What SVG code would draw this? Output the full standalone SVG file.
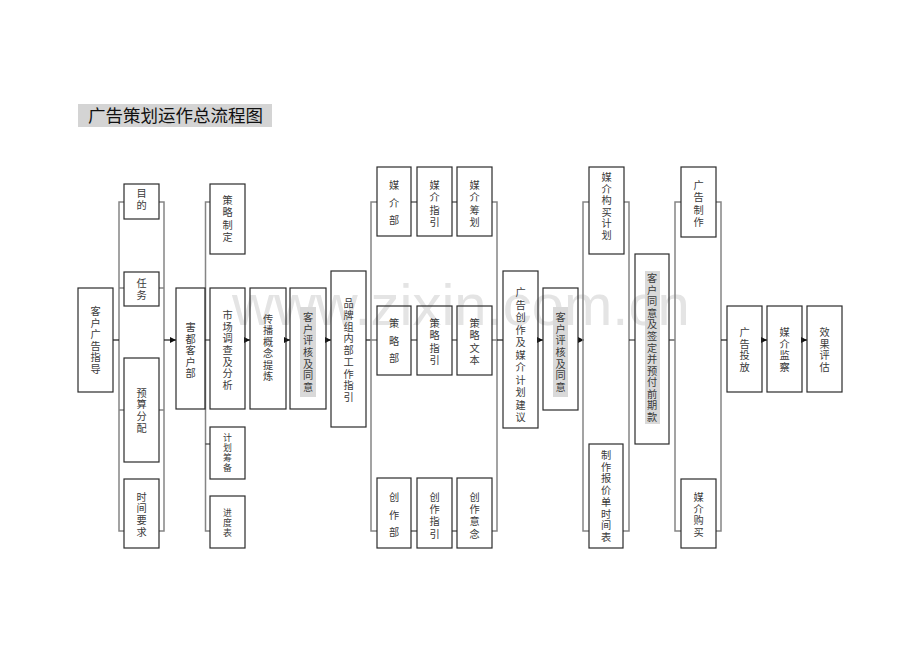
<svg xmlns="http://www.w3.org/2000/svg" width="920" height="651" viewBox="0 0 920 651">
<style>
.box{fill:none;stroke:#2b2b2b;stroke-width:1.2}
.rail{fill:none;stroke:#858585;stroke-width:1.5}
.link{fill:none;stroke:#1a1a1a;stroke-width:1.2}
.arr{fill:none;stroke:#1a1a1a;stroke-width:1.2;marker-end:url(#ah)}
.hl{fill:#d9d9d9;stroke:none}
.v{font-family:"Liberation Sans","Noto Sans CJK SC","Noto Sans CJK JP",sans-serif;font-size:10.2px;fill:#3a3a3a;text-anchor:middle;dominant-baseline:central}
.sm{font-size:8.9px}
.title{font-family:"Noto Sans CJK SC",sans-serif;font-size:17.5px;fill:#111}
.wm{font-family:"Liberation Sans",Arial,sans-serif;font-size:58px;fill:#e4e4e4}
</style>
<defs>
<marker id="ah" markerWidth="7" markerHeight="7" refX="6" refY="3.5" orient="auto" markerUnits="userSpaceOnUse">
<path d="M0,0.5 L6,3.5 L0,6.5 Z" fill="#111"/>
</marker>
</defs>
<rect width="920" height="651" fill="#fff"/>
<text class="wm" x="232" y="325">www.zixin.com.cn</text>
<g id="title">
<rect x="78" y="104" width="194" height="23" fill="#d4d4d4"/>
<text class="title" x="88" y="122">广告策划运作总流程图</text>
</g>
<g id="connectors">
<path class="rail" d="M124,202 H119 V531 H124 M119,288 H124 M119,410 H124"/>
<path class="rail" d="M159,202 H164 V531 H159 M159,288 H164 M159,410 H164"/>
<path class="rail" d="M210,202 H205.5 V531 H210"/>
<path class="link" d="M205.5,444 H210 M205,340 H210"/>
<path class="link" d="M113,340 H119"/>
<path class="arr" d="M164,340 H176"/>
<path class="arr" d="M245,340 H250"/>
<path class="arr" d="M286,340 H290"/>
<path class="arr" d="M326,340 H331"/>
<path class="link" d="M366,340 H371"/>
<path class="rail" d="M377,202 H371 V531 H377 M371,340 H377"/>
<path class="rail" d="M492,202 H497 V531 H492 M492,340 H497"/>
<path class="link" d="M411,202 H417 M452,202 H457 M411,340 H417 M452,340 H457 M411,531 H417 M452,531 H457"/>
<path class="link" d="M497,340 H503"/>
<path class="arr" d="M538,340 H543"/>
<path class="arr" d="M578,340 H584"/>
<path class="rail" d="M589,202 H583 V531 H589"/>
<path class="rail" d="M624,202 H629 V531 H623"/>
<path class="link" d="M629,340 H635 M669,340 H675"/>
<path class="rail" d="M681,202 H675 V531 H681"/>
<path class="rail" d="M716,202 H721 V531 H716"/>
<path class="link" d="M721,340 H727"/>
<path class="arr" d="M762,340 H767"/>
<path class="arr" d="M802,340 H807"/>
</g>
<g id="n-khggzd"><rect class="box" x="78" y="288" width="35" height="104"/>
<text class="v"><tspan x="95.5" y="311.3">客</tspan><tspan x="95.5" y="322.8">户</tspan><tspan x="95.5" y="334.3">广</tspan><tspan x="95.5" y="345.8">告</tspan><tspan x="95.5" y="357.3">指</tspan><tspan x="95.5" y="368.8">导</tspan></text></g>
<g id="n-md"><rect class="box" x="124" y="184" width="35" height="35"/>
<text class="v"><tspan x="141.5" y="193">目</tspan><tspan x="141.5" y="205">的</tspan></text></g>
<g id="n-rw"><rect class="box" x="124" y="272" width="35" height="34"/>
<text class="v"><tspan x="141.5" y="282.5">任</tspan><tspan x="141.5" y="294.5">务</tspan></text></g>
<g id="n-ysfp"><rect class="box" x="124" y="358" width="35" height="104"/>
<text class="v"><tspan x="141.5" y="392.5">预</tspan><tspan x="141.5" y="404.2">算</tspan><tspan x="141.5" y="415.9">分</tspan><tspan x="141.5" y="427.6">配</tspan></text></g>
<g id="n-sjyq"><rect class="box" x="124" y="479" width="35" height="69"/>
<text class="v"><tspan x="141.5" y="496.5">时</tspan><tspan x="141.5" y="508.2">间</tspan><tspan x="141.5" y="519.9">要</tspan><tspan x="141.5" y="531.6">求</tspan></text></g>
<g id="n-khb"><rect class="box" x="176" y="288" width="29" height="121"/>
<text class="v"><tspan x="190.5" y="327">害</tspan><tspan x="190.5" y="338.5">都</tspan><tspan x="190.5" y="350">客</tspan><tspan x="190.5" y="361.5">户</tspan><tspan x="190.5" y="373">部</tspan></text></g>
<g id="n-clzd"><rect class="box" x="210" y="184" width="35" height="70"/>
<text class="v"><tspan x="227.5" y="200">策</tspan><tspan x="227.5" y="212.3">略</tspan><tspan x="227.5" y="224.6">制</tspan><tspan x="227.5" y="236.9">定</tspan></text></g>
<g id="n-scdc"><rect class="box" x="210" y="288" width="35" height="121"/>
<text class="v"><tspan x="227.5" y="314.9">市</tspan><tspan x="227.5" y="326.6">场</tspan><tspan x="227.5" y="338.3">调</tspan><tspan x="227.5" y="350">查</tspan><tspan x="227.5" y="361.7">及</tspan><tspan x="227.5" y="373.4">分</tspan><tspan x="227.5" y="385.1">析</tspan></text></g>
<g id="n-jhcb"><rect class="box" x="210" y="427" width="35" height="52"/>
<text class="v sm"><tspan x="227.5" y="438">计</tspan><tspan x="227.5" y="448">划</tspan><tspan x="227.5" y="458">筹</tspan><tspan x="227.5" y="468">备</tspan></text></g>
<g id="n-jdb"><rect class="box" x="210" y="496" width="35" height="52"/>
<text class="v sm"><tspan x="227.5" y="513">进</tspan><tspan x="227.5" y="523">度</tspan><tspan x="227.5" y="533">表</tspan></text></g>
<g id="n-cbgn"><rect class="box" x="250" y="288" width="36" height="121"/>
<text class="v"><tspan x="268" y="318.8">传</tspan><tspan x="268" y="330.3">播</tspan><tspan x="268" y="341.8">概</tspan><tspan x="268" y="353.3">念</tspan><tspan x="268" y="364.8">提</tspan><tspan x="268" y="376.3">炼</tspan></text></g>
<g id="n-khph1"><rect class="box" x="290" y="288" width="36" height="121"/>
<rect class="hl" x="300" y="307" width="16" height="90"/>
<text class="v"><tspan x="308" y="316.9">客</tspan><tspan x="308" y="328.6">户</tspan><tspan x="308" y="340.3">评</tspan><tspan x="308" y="352">核</tspan><tspan x="308" y="363.7">及</tspan><tspan x="308" y="375.4">同</tspan><tspan x="308" y="387.1">意</tspan></text></g>
<g id="n-ppzn"><rect class="box" x="331" y="271" width="35" height="156"/>
<text class="v"><tspan x="348.5" y="303">品</tspan><tspan x="348.5" y="314.8">牌</tspan><tspan x="348.5" y="326.5">组</tspan><tspan x="348.5" y="338.3">内</tspan><tspan x="348.5" y="350">部</tspan><tspan x="348.5" y="361.8">工</tspan><tspan x="348.5" y="373.5">作</tspan><tspan x="348.5" y="385.3">指</tspan><tspan x="348.5" y="397">引</tspan></text></g>
<g id="n-mjb"><rect class="box" x="377" y="167" width="34" height="69"/>
<text class="v"><tspan x="394" y="185">媒</tspan><tspan x="394" y="202.5">介</tspan><tspan x="394" y="220">部</tspan></text></g>
<g id="n-mjzy"><rect class="box" x="417" y="167" width="35" height="69"/>
<text class="v"><tspan x="434.5" y="185">媒</tspan><tspan x="434.5" y="197.3">介</tspan><tspan x="434.5" y="209.6">指</tspan><tspan x="434.5" y="221.9">引</tspan></text></g>
<g id="n-mjch"><rect class="box" x="457" y="167" width="35" height="69"/>
<text class="v"><tspan x="474.5" y="185">媒</tspan><tspan x="474.5" y="197.3">介</tspan><tspan x="474.5" y="209.6">筹</tspan><tspan x="474.5" y="221.9">划</tspan></text></g>
<g id="n-clb"><rect class="box" x="377" y="306" width="34" height="69"/>
<text class="v"><tspan x="394" y="323">策</tspan><tspan x="394" y="340.5">略</tspan><tspan x="394" y="358">部</tspan></text></g>
<g id="n-clzy"><rect class="box" x="417" y="306" width="35" height="69"/>
<text class="v"><tspan x="434.5" y="323">策</tspan><tspan x="434.5" y="335.3">略</tspan><tspan x="434.5" y="347.6">指</tspan><tspan x="434.5" y="359.9">引</tspan></text></g>
<g id="n-clwb"><rect class="box" x="457" y="306" width="35" height="69"/>
<text class="v"><tspan x="474.5" y="323">策</tspan><tspan x="474.5" y="335.3">略</tspan><tspan x="474.5" y="347.6">文</tspan><tspan x="474.5" y="359.9">本</tspan></text></g>
<g id="n-czb"><rect class="box" x="377" y="478" width="34" height="70"/>
<text class="v"><tspan x="394" y="497">创</tspan><tspan x="394" y="514.5">作</tspan><tspan x="394" y="532">部</tspan></text></g>
<g id="n-czzy"><rect class="box" x="417" y="478" width="35" height="70"/>
<text class="v"><tspan x="434.5" y="497">创</tspan><tspan x="434.5" y="509.2">作</tspan><tspan x="434.5" y="521.4">指</tspan><tspan x="434.5" y="533.6">引</tspan></text></g>
<g id="n-czyn"><rect class="box" x="457" y="478" width="35" height="70"/>
<text class="v"><tspan x="474.5" y="497">创</tspan><tspan x="474.5" y="509.2">作</tspan><tspan x="474.5" y="521.4">意</tspan><tspan x="474.5" y="533.6">念</tspan></text></g>
<g id="n-ggcz"><rect class="box" x="503" y="271" width="35" height="157"/>
<text class="v"><tspan x="520.5" y="292">广</tspan><tspan x="520.5" y="304.5">告</tspan><tspan x="520.5" y="317">创</tspan><tspan x="520.5" y="329.5">作</tspan><tspan x="520.5" y="342">及</tspan><tspan x="520.5" y="354.5">媒</tspan><tspan x="520.5" y="367">介</tspan><tspan x="520.5" y="379.5">计</tspan><tspan x="520.5" y="392">划</tspan><tspan x="520.5" y="404.5">建</tspan><tspan x="520.5" y="417">议</tspan></text></g>
<g id="n-khph2"><rect class="box" x="543" y="288" width="35" height="122"/>
<rect class="hl" x="553" y="307" width="15" height="90"/>
<text class="v"><tspan x="560.5" y="316.9">客</tspan><tspan x="560.5" y="328.6">户</tspan><tspan x="560.5" y="340.3">评</tspan><tspan x="560.5" y="352">核</tspan><tspan x="560.5" y="363.7">及</tspan><tspan x="560.5" y="375.4">同</tspan><tspan x="560.5" y="387.1">意</tspan></text></g>
<g id="n-mjgm"><rect class="box" x="589" y="167" width="35" height="87"/>
<text class="v"><tspan x="606.5" y="177">媒</tspan><tspan x="606.5" y="188.6">介</tspan><tspan x="606.5" y="200.2">构</tspan><tspan x="606.5" y="211.8">买</tspan><tspan x="606.5" y="223.4">计</tspan><tspan x="606.5" y="235">划</tspan></text></g>
<g id="n-zzbj"><rect class="box" x="589" y="444" width="34" height="104"/>
<text class="v"><tspan x="606" y="455">制</tspan><tspan x="606" y="466.7">作</tspan><tspan x="606" y="478.4">报</tspan><tspan x="606" y="490.1">价</tspan><tspan x="606" y="501.9">单</tspan><tspan x="606" y="513.6">时</tspan><tspan x="606" y="525.3">间</tspan><tspan x="606" y="537">表</tspan></text></g>
<g id="n-khty"><rect class="box" x="635" y="254" width="34" height="190"/>
<rect class="hl" x="645" y="271" width="15" height="153"/>
<text class="v"><tspan x="652" y="278">客</tspan><tspan x="652" y="289.6">户</tspan><tspan x="652" y="301.2">同</tspan><tspan x="652" y="312.7">意</tspan><tspan x="652" y="324.3">及</tspan><tspan x="652" y="335.9">签</tspan><tspan x="652" y="347.5">定</tspan><tspan x="652" y="359.1">并</tspan><tspan x="652" y="370.7">预</tspan><tspan x="652" y="382.2">付</tspan><tspan x="652" y="393.8">前</tspan><tspan x="652" y="405.4">期</tspan><tspan x="652" y="417">款</tspan></text></g>
<g id="n-ggzz"><rect class="box" x="681" y="167" width="35" height="70"/>
<text class="v"><tspan x="698.5" y="185">广</tspan><tspan x="698.5" y="197.3">告</tspan><tspan x="698.5" y="209.6">制</tspan><tspan x="698.5" y="222">作</tspan></text></g>
<g id="n-mjgm2"><rect class="box" x="681" y="479" width="35" height="69"/>
<text class="v"><tspan x="698.5" y="497">媒</tspan><tspan x="698.5" y="508.7">介</tspan><tspan x="698.5" y="520.3">购</tspan><tspan x="698.5" y="532">买</tspan></text></g>
<g id="n-ggtf"><rect class="box" x="727" y="306" width="35" height="86"/>
<text class="v"><tspan x="744.5" y="332">广</tspan><tspan x="744.5" y="343.7">告</tspan><tspan x="744.5" y="355.3">投</tspan><tspan x="744.5" y="367">放</tspan></text></g>
<g id="n-mjjc"><rect class="box" x="767" y="306" width="35" height="86"/>
<text class="v"><tspan x="784.5" y="332">媒</tspan><tspan x="784.5" y="343.7">介</tspan><tspan x="784.5" y="355.3">监</tspan><tspan x="784.5" y="367">察</tspan></text></g>
<g id="n-xgpg"><rect class="box" x="807" y="306" width="35" height="86"/>
<text class="v"><tspan x="824.5" y="332">效</tspan><tspan x="824.5" y="343.7">果</tspan><tspan x="824.5" y="355.3">评</tspan><tspan x="824.5" y="367">估</tspan></text></g>
</svg>
